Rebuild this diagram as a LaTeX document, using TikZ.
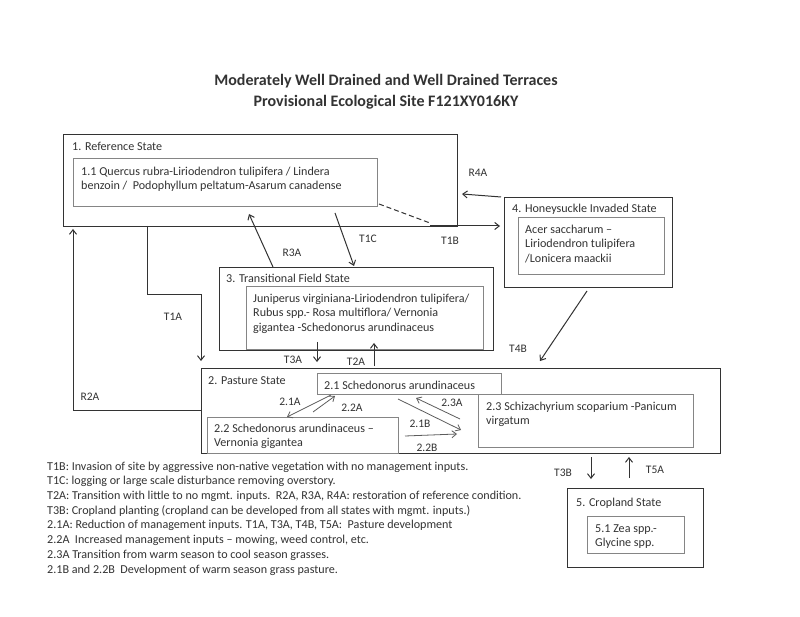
\documentclass[tikz,border=0pt]{standalone}
\usepackage{fontspec}
\setmainfont{Carlito}
\usetikzlibrary{arrows.meta}
\definecolor{ink}{HTML}{333333}
\definecolor{innerc}{HTML}{858585}
\begin{document}
\begin{tikzpicture}[x=1pt,y=-1pt,
  outerbox/.style={draw=ink, line width=1.4pt, inner sep=0, anchor=north west},
  innerbox/.style={draw=innerc, line width=0.9pt, inner sep=0, anchor=north west},
  txt/.style={text=ink, font=\fontsize{12.1}{14.5}\selectfont, inner sep=0, anchor=north west, align=left},
  head/.style={text=ink, font=\fontsize{12.1}{14.5}\selectfont, inner sep=0, anchor=base west},
  lbl/.style={text=ink, font=\fontsize{11.5}{13}\selectfont, inner sep=0},
  conn/.style={draw=ink, line width=1pt, -{Straight Barb[length=4.5pt,width=7pt]}},
  thin/.style={draw=ink!80, line width=0.8pt, -{Straight Barb[length=4.5pt,width=7pt]}},
]
\useasboundingbox (0,0) rectangle (800,617);
\fill[white] (0,0) rectangle (800,617);

% title
\node[text=ink, font=\bfseries\fontsize{16}{21.7}\selectfont, align=center, inner sep=0, anchor=north] (title) at (386,69.8)
  {\strut Moderately Well Drained and Well Drained Terraces\\Provisional Ecological Site F121XY016KY};

% boxes
\node[outerbox, minimum width=394, minimum height=92] (ref) at (63,134) {};
\node[innerbox, minimum width=304, minimum height=48] (ref11) at (73,158) {};
\node[outerbox, minimum width=168, minimum height=90] (hon) at (504,197) {};
\node[innerbox, minimum width=146, minimum height=57] (hon1) at (518,217) {};
\node[outerbox, minimum width=274, minimum height=83] (tfs) at (219,267) {};
\node[innerbox, minimum width=237, minimum height=63] (tfs1) at (246,286) {};
\node[outerbox, minimum width=519, minimum height=85] (pas) at (201,368) {};
\node[innerbox, minimum width=184, minimum height=21] (p21) at (317,373) {};
\node[innerbox, minimum width=191, minimum height=36] (p22) at (207,417) {};
\node[innerbox, minimum width=215, minimum height=53] (p23) at (478,394) {};
\node[outerbox, minimum width=136, minimum height=79] (crop) at (567,488) {};
\node[innerbox, minimum width=97, minimum height=37] (crop1) at (587,516) {};

% box texts
\node[head] (refT) at (72,151) {1. Reference State};
\node[txt] (ref11T) at (81,164.9) {\strut 1.1 Quercus rubra-Liriodendron tulipifera / Lindera\\benzoin /\ \ Podophyllum peltatum-Asarum canadense};
\node[head] (honT) at (512,213) {4. Honeysuckle Invaded State};
\node[txt] (hon1T) at (525,222.9) {\strut Acer saccharum --\\Liriodendron tulipifera\\/Lonicera maackii};
\node[head] (tfsT) at (226,283) {3. Transitional Field State};
\node[txt] (tfs1T) at (253,291.9) {\strut Juniperus virginiana-Liriodendron tulipifera/\\Rubus spp.- Rosa multiflora/ Vernonia\\gigantea -Schedonorus arundinaceus};
\node[head] (pasT) at (208,384) {2. Pasture State};
\node[head] (p21T) at (324,389) {2.1 Schedonorus arundinaceus};
\node[txt] (p22T) at (214,421.9) {\strut 2.2 Schedonorus arundinaceus --\\Vernonia gigantea};
\node[txt] (p23T) at (486,399.9) {\strut 2.3 Schizachyrium scoparium -Panicum\\virgatum};
\node[head] (cropT) at (576,506) {5. Cropland State};
\node[txt] (crop1T) at (595,521.9) {\strut 5.1 Zea spp.-\\Glycine spp.};

% legend
\node[text=ink, font=\fontsize{12.1}{14.7}\selectfont, inner sep=0, anchor=north west, align=left] (legend) at (47,459.7)
 {\strut T1B: Invasion of site by aggressive non-native vegetation with no management inputs.\\
  T1C: logging or large scale disturbance removing overstory.\\
  T2A: Transition with little to no mgmt. inputs.\ \ R2A, R3A, R4A: restoration of reference condition.\\
  T3B: Cropland planting (cropland can be developed from all states with mgmt. inputs.)\\
  2.1A: Reduction of management inputs. T1A, T3A, T4B, T5A:\ \ Pasture development\\
  2.2A\ \ Increased management inputs -- mowing, weed control, etc.\\
  2.3A Transition from warm season to cool season grasses.\\
  2.1B and 2.2B\ \ Development of warm season grass pasture.};

% coordinates for connectors
\coordinate (t1bS) at (379,204);
\coordinate (t1bM) at (430,223);
\coordinate (t1bB) at (430,226);
\coordinate (t1bE) at (500,226);
\coordinate (r4aS) at (501,197);
\coordinate (r4aE) at (462,194);
\coordinate (r3aS) at (273,267);
\coordinate (r3aE) at (249,214);
\coordinate (t1cS) at (335,213);
\coordinate (t1cE) at (354,266);
\coordinate (t1aS) at (147,226);
\coordinate (t1a1) at (147,295);
\coordinate (t1a2) at (201,295);
\coordinate (t1aE) at (201,361);
\coordinate (r2aS) at (201,410);
\coordinate (r2a1) at (73,410);
\coordinate (r2aE) at (73,229);
\coordinate (t4bS) at (587,291);
\coordinate (t4bE) at (540,361);
\coordinate (t3aS) at (317,342);
\coordinate (t3aE) at (317,362);
\coordinate (t2aS) at (374,366);
\coordinate (t2aE) at (374,343);
\coordinate (t3bS) at (591,457);
\coordinate (t3bE) at (591,479);
\coordinate (t5aS) at (629,478);
\coordinate (t5aE) at (629,457);
\coordinate (a21S) at (331,395);
\coordinate (a21E) at (287,417);
\coordinate (a22S) at (313,412);
\coordinate (a22E) at (335,396);
\coordinate (a23S) at (460,419);
\coordinate (a23E) at (416,398);
\coordinate (b21S) at (398,399);
\coordinate (b21E) at (461,430);
\coordinate (b22S) at (405,436);
\coordinate (b22E) at (457,434);

% connectors
\draw[draw=ink, line width=1pt, dash pattern=on 5pt off 3pt] (t1bS) -- (t1bM);
\draw[conn] (t1bB) -- (t1bE);
\draw[conn] (r4aS) -- (r4aE);
\draw[conn] (r3aS) -- (r3aE);
\draw[conn] (t1cS) -- (t1cE);
\draw[conn] (t1aS) -- (t1a1) -- (t1a2) -- (t1aE);
\draw[conn] (r2aS) -- (r2a1) -- (r2aE);
\draw[conn] (t4bS) -- (t4bE);
\draw[conn] (t3aS) -- (t3aE);
\draw[conn] (t2aS) -- (t2aE);
\draw[conn] (t3bS) -- (t3bE);
\draw[conn] (t5aS) -- (t5aE);
\draw[thin] (a21S) -- (a21E);
\draw[thin] (a22S) -- (a22E);
\draw[thin] (a23S) -- (a23E);
\draw[thin] (b21S) -- (b21E);
\draw[thin] (b22S) -- (b22E);

% labels
\node[lbl] (lR4A) at (478,173) {R4A};
\node[lbl] (lT1B) at (450,241) {T1B};
\node[lbl] (lR3A) at (292,253) {R3A};
\node[lbl] (lT1C) at (368,239) {T1C};
\node[lbl] (lT1A) at (173,317) {T1A};
\node[lbl] (lR2A) at (90,397) {R2A};
\node[lbl] (lT4B) at (518,349) {T4B};
\node[lbl] (lT3A) at (293,360) {T3A};
\node[lbl] (lT2A) at (356,362) {T2A};
\node[lbl] (l21A) at (290,402) {2.1A};
\node[lbl] (l22A) at (352,408) {2.2A};
\node[lbl] (l23A) at (452,403) {2.3A};
\node[lbl] (l21B) at (420,424) {2.1B};
\node[lbl] (l22B) at (427,448) {2.2B};
\node[lbl] (lT3B) at (563,473) {T3B};
\node[lbl] (lT5A) at (655,470) {T5A};
\end{tikzpicture}
\end{document}
